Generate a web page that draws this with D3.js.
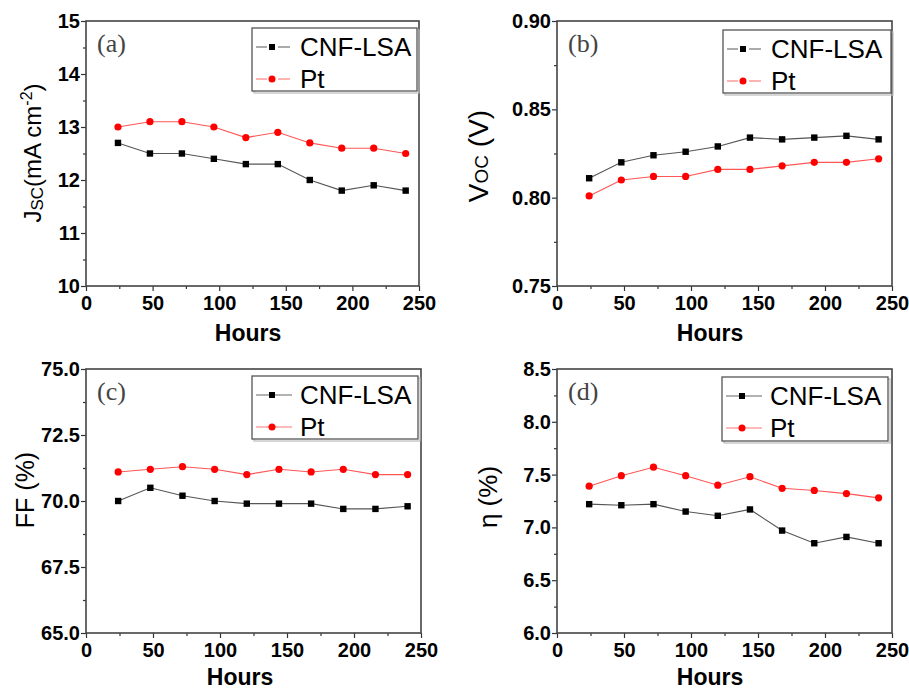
<!DOCTYPE html>
<meta charset="utf-8">
<script src="https://d3js.org/d3.v7.min.js"></script>
<style>
  body { margin: 0; background: #fff; }
  svg text { font-family: "Liberation Sans", Arial, sans-serif; }
</style>
<div id="chart"></div>
<script>
// Data
var hours = [24, 48, 72, 96, 120, 144, 168, 192, 216, 240];
var seriesNames = ["CNF-LSA", "Pt"];

var jscCnf = [12.7, 12.5, 12.5, 12.4, 12.3, 12.3, 12.0, 11.8, 11.9, 11.8];
var jscPt  = [13.0, 13.1, 13.1, 13.0, 12.8, 12.9, 12.7, 12.6, 12.6, 12.5];

var vocCnf = [0.811, 0.820, 0.824, 0.826, 0.829, 0.834, 0.833, 0.834, 0.835, 0.833];
var vocPt  = [0.801, 0.810, 0.812, 0.812, 0.816, 0.816, 0.818, 0.820, 0.820, 0.822];

var ffCnf = [70.0, 70.5, 70.2, 70.0, 69.9, 69.9, 69.9, 69.7, 69.7, 69.8];
var ffPt  = [71.1, 71.2, 71.3, 71.2, 71.0, 71.2, 71.1, 71.2, 71.0, 71.0];

var etaCnf = [7.22, 7.21, 7.22, 7.15, 7.11, 7.17, 6.97, 6.85, 6.91, 6.85];
var etaPt  = [7.39, 7.49, 7.57, 7.49, 7.40, 7.48, 7.37, 7.35, 7.32, 7.28];

var xTicks = [0, 50, 100, 150, 200, 250];
var jscTicks = [10, 11, 12, 13, 14, 15];
var vocTicks = [0.75, 0.80, 0.85, 0.90];
var ffTicks = [65, 67.5, 70, 72.5, 75];
var etaTicks = [6.0, 6.5, 7.0, 7.5, 8.0, 8.5];

var svg = d3.select("#chart").append("svg")
    .attr("width", 909)
    .attr("height", 690);

// one entry per panel
var panels = [
  { tag: "(a)", cnf: jscCnf, pt: jscPt, ticks: jscTicks, fmt: d3.format("d"),
    box: {l: 86, r: 419, t: 21, b: 286}, dashedKey: true,
    legend: {x: 252, y: 28, w: 165, h: 63}, hoursX: 248, hoursY: 341, ylab: "jsc" },
  { tag: "(b)", cnf: vocCnf, pt: vocPt, ticks: vocTicks, fmt: d3.format(".2f"),
    box: {l: 557, r: 892, t: 21, b: 286}, dashedKey: true,
    legend: {x: 723, y: 30, w: 168, h: 63}, hoursX: 710, hoursY: 341, ylab: "voc" },
  { tag: "(c)", cnf: ffCnf, pt: ffPt, ticks: ffTicks, fmt: d3.format(".1f"),
    box: {l: 86, r: 421, t: 369, b: 633}, dashedKey: false,
    legend: {x: 252, y: 376, w: 166, h: 63}, hoursX: 240, hoursY: 685, ylab: "ff" },
  { tag: "(d)", cnf: etaCnf, pt: etaPt, ticks: etaTicks, fmt: d3.format(".1f"),
    box: {l: 557, r: 892, t: 369, b: 633}, dashedKey: false,
    legend: {x: 722, y: 377, w: 166, h: 64}, hoursX: 710, hoursY: 685, ylab: "eta" }
];

panels.forEach(function(p) {
  var b = p.box;
  var x = d3.scaleLinear().domain([0, 250]).range([b.l, b.r]);
  var y = d3.scaleLinear()
      .domain([p.ticks[0], p.ticks[p.ticks.length - 1]])
      .range([b.b, b.t]);
  var step = p.ticks[1] - p.ticks[0];
  var minorY = p.ticks.slice(0, -1).map(function(t) { return t + step / 2; });
  var g = svg.append("g");

  // minor ticks
  g.append("g")
      .attr("transform", "translate(0," + b.b + ")")
      .call(d3.axisBottom(x).tickValues([25, 75, 125, 175, 225]).tickSize(3).tickFormat(""))
      .call(function(s) { s.select(".domain").remove(); });
  g.append("g")
      .attr("transform", "translate(" + b.l + ",0)")
      .call(d3.axisLeft(y).tickValues(minorY).tickSize(3).tickFormat(""))
      .call(function(s) { s.select(".domain").remove(); });

  // major ticks + labels
  var xa = g.append("g")
      .attr("transform", "translate(0," + b.b + ")")
      .call(d3.axisBottom(x).tickValues(xTicks).tickSize(5).tickPadding(5));
  xa.select(".domain").remove();
  xa.selectAll("text")
      .style("font-size", "20px").style("font-weight", "bold").attr("fill", "#000");

  var ya = g.append("g")
      .attr("transform", "translate(" + b.l + ",0)")
      .call(d3.axisLeft(y).tickValues(p.ticks).tickSize(5).tickPadding(1).tickFormat(p.fmt));
  ya.select(".domain").remove();
  ya.selectAll("text")
      .style("font-size", "20px").style("font-weight", "bold").attr("fill", "#000");

  g.selectAll(".tick line").attr("stroke", "#333").attr("stroke-width", 1.2);

  // frame
  g.append("rect")
      .attr("x", b.l).attr("y", b.t)
      .attr("width", b.r - b.l).attr("height", b.b - b.t)
      .attr("fill", "none").attr("stroke", "#444").attr("stroke-width", 1.6);

  // lines and markers
  var line = d3.line()
      .x(function(d, i) { return x(hours[i]); })
      .y(function(d) { return y(d); });

  g.append("path").datum(p.cnf)
      .attr("d", line).attr("fill", "none")
      .attr("stroke", "#555").attr("stroke-width", 1.1);
  g.append("path").datum(p.pt)
      .attr("d", line).attr("fill", "none")
      .attr("stroke", "#f55").attr("stroke-width", 1.1);

  g.selectAll(".sq").data(p.cnf).enter().append("rect")
      .attr("x", function(d, i) { return x(hours[i]) - 3.2; })
      .attr("y", function(d) { return y(d) - 3.2; })
      .attr("width", 6.4).attr("height", 6.4)
      .attr("fill", "#000");
  g.selectAll(".ci").data(p.pt).enter().append("circle")
      .attr("cx", function(d, i) { return x(hours[i]); })
      .attr("cy", function(d) { return y(d); })
      .attr("r", 3.6)
      .attr("fill", "#f00");

  // panel tag
  g.append("text")
      .attr("x", b.l + 11).attr("y", b.t + 31)
      .style("font-family", "'Liberation Serif', 'Times New Roman', serif")
      .style("font-size", "26px")
      .attr("fill", "#444")
      .text(p.tag);

  // legend
  var L = p.legend;
  var lg = g.append("g").attr("transform", "translate(" + L.x + "," + L.y + ")");
  lg.append("rect")
      .attr("x", 2).attr("y", 2).attr("width", L.w).attr("height", L.h)
      .attr("fill", "none").attr("stroke", "#bbb").attr("stroke-width", 1.2);
  lg.append("rect")
      .attr("width", L.w).attr("height", L.h)
      .attr("fill", "#fff").attr("stroke", "#555").attr("stroke-width", 1.3);

  var keyColors = [{line: "#666", mark: "#000"}, {line: "#f77", mark: "#f00"}];
  seriesNames.forEach(function(name, k) {
    var cy = 19 + k * 32;
    if (p.dashedKey) {
      lg.append("line").attr("x1", 4).attr("x2", 15).attr("y1", cy).attr("y2", cy)
          .attr("stroke", keyColors[k].line).attr("stroke-width", 1.1);
      lg.append("line").attr("x1", 26).attr("x2", 38).attr("y1", cy).attr("y2", cy)
          .attr("stroke", keyColors[k].line).attr("stroke-width", 1.1);
    } else {
      lg.append("line").attr("x1", 4).attr("x2", 40).attr("y1", cy).attr("y2", cy)
          .attr("stroke", keyColors[k].line).attr("stroke-width", 1.1);
    }
    if (k === 0) {
      lg.append("rect").attr("x", 17).attr("y", cy - 3).attr("width", 6).attr("height", 6)
          .attr("fill", keyColors[k].mark);
    } else {
      lg.append("circle").attr("cx", 20).attr("cy", cy).attr("r", 3.5)
          .attr("fill", keyColors[k].mark);
    }
    lg.append("text")
        .attr("x", 48).attr("y", cy + 9)
        .style("font-size", "26px")
        .attr("fill", "#000")
        .text(name);
  });

  // x title
  g.append("text")
      .attr("x", p.hoursX).attr("y", p.hoursY)
      .attr("text-anchor", "middle")
      .style("font-size", "23px").style("font-weight", "bold")
      .text("Hours");

  // y title
  var yt = g.append("text").attr("text-anchor", "middle").attr("fill", "#000");
  if (p.ylab === "jsc") {
    yt.attr("transform", "translate(41,153) rotate(-90)").style("font-size", "24px");
    yt.append("tspan").text("J");
    yt.append("tspan").style("font-size", "17px").attr("dy", 2).text("SC");
    yt.append("tspan").attr("dy", -2).text("(mA cm");
    yt.append("tspan").style("font-size", "16px").attr("dy", -9).text("-2");
    yt.append("tspan").attr("dy", 9).text(")");
  } else if (p.ylab === "voc") {
    yt.attr("transform", "translate(488,156) rotate(-90)").style("font-size", "28px");
    yt.append("tspan").text("V");
    yt.append("tspan").style("font-size", "19px").text("OC");
    yt.append("tspan").text(" (V)");
  } else if (p.ylab === "ff") {
    yt.attr("transform", "translate(34,490) rotate(-90)").style("font-size", "25px")
        .text("FF (%)");
  } else {
    yt.attr("transform", "translate(497,497) rotate(-90)").style("font-size", "26px")
        .text("\u03b7 (%)");
  }
});
</script>
